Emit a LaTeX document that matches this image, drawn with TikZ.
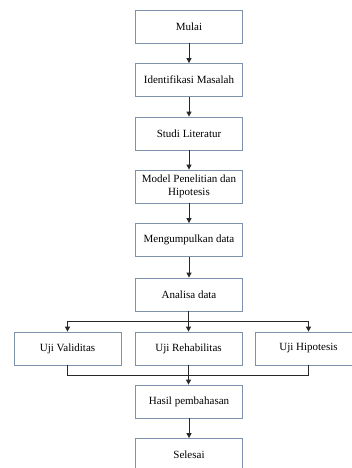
\documentclass[tikz,border=0pt]{standalone}
\usepackage{fontspec}
\setmainfont{Liberation Serif}
\usetikzlibrary{arrows.meta}
\definecolor{kotak}{RGB}{125,145,170}
\definecolor{garis}{RGB}{40,40,40}
\tikzset{
	langkah/.style={draw=kotak, line width=0.8pt, fill=white, minimum width=107pt, minimum height=33pt, inner sep=2pt, align=center, font=\fontsize{11}{13}\selectfont},
	panah/.style={draw=garis, line width=1pt, -{Triangle[length=5pt,width=5pt]}},
	hubung/.style={draw=garis, line width=1pt}
}
\begin{document}
\begin{tikzpicture}[x=1pt, y=-1pt]
		\useasboundingbox (0, 0) rectangle (352, 468);
		\node[langkah] (mulai) at (189, 26.5) {Mulai};
		\node[langkah] (identifikasi) at (189, 80) {Identifikasi Masalah};
		\node[langkah] (studi) at (189, 133.5) {Studi Literatur};
		\node[langkah] (model) at (189, 186.5) {Model Penelitian dan\\Hipotesis};
		\node[langkah] (kumpul) at (189, 240) {Mengumpulkan data};
		\node[langkah] (analisa) at (189, 294.5) {Analisa data};
		\node[langkah] (validitas) at (67.5, 348.5) {Uji Validitas};
		\node[langkah] (rehabilitas) at (188.5, 348.5) {Uji Rehabilitas};
		\node[langkah] (hipotesis) at (308.5, 348.5) {Uji Hipotesis};
		\node[langkah] (hasil) at (189, 401.5) {Hasil pembahasan};
		\node[langkah] (selesai) at (189, 455) {Selesai};
		\coordinate (cabang) at (188.5, 321);
		\coordinate (gabung) at (188.5, 375);

		\path[panah] (mulai) -- (identifikasi);
		\path[panah] (identifikasi) -- (studi);
		\path[panah] (studi) -- (model);
		\path[panah] (model) -- (kumpul);
		\path[panah] (kumpul) -- (analisa);
		% percabangan uji
		\path[hubung] (analisa.south -| cabang) -- (cabang);
		\path[panah] (cabang) -| (validitas.north);
		\path[panah] (cabang) -- (rehabilitas.north);
		\path[panah] (cabang) -| (hipotesis.north);
		\path[hubung] (validitas.south) |- (hipotesis.south |- gabung) -- (hipotesis.south);
		\path[panah] (rehabilitas.south) -- (hasil.north -| rehabilitas.south);
		\path[panah] (hasil) -- (selesai);
	\end{tikzpicture}
\end{document}
